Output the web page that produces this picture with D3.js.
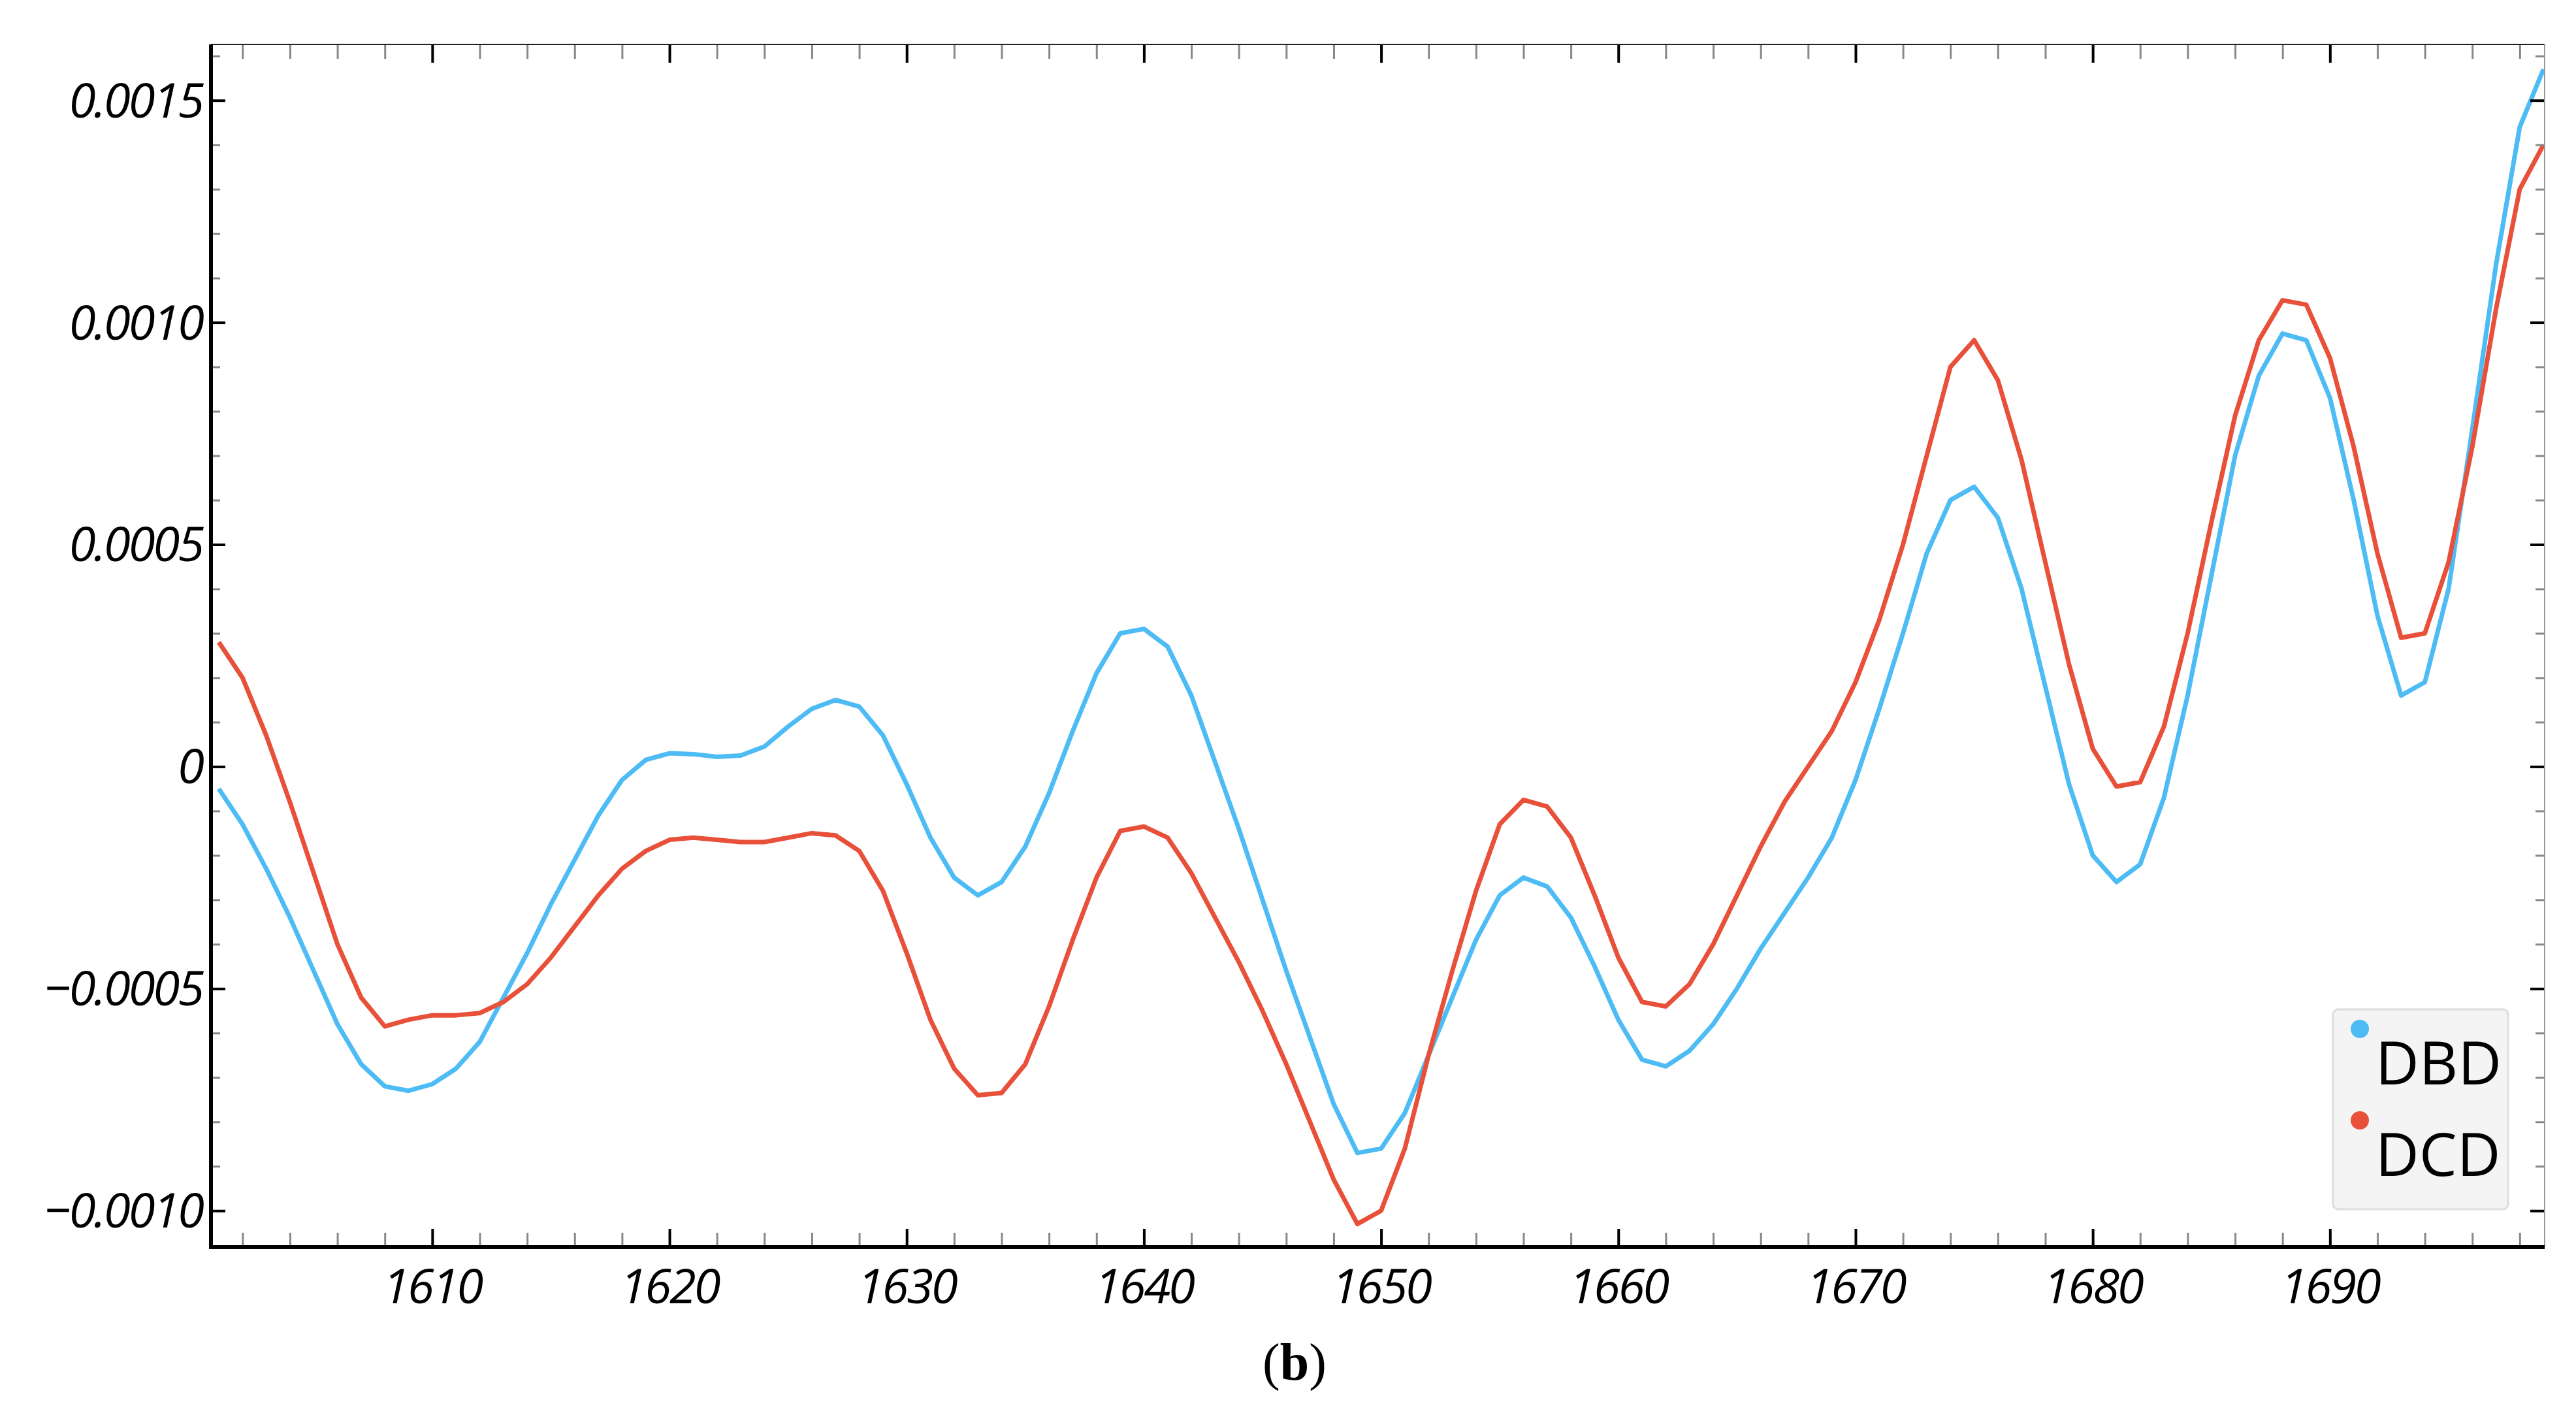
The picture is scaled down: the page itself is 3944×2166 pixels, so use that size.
<!DOCTYPE html>
<html><head><meta charset="utf-8">
<script src="https://cdn.jsdelivr.net/npm/d3@7"></script>
<style>body{margin:0;background:#fff}</style></head>
<body><svg id="c" width="3944" height="2166"></svg>
<script>
const xs = d3.range(1601, 1700);
const dbd = [-0.5,-1.3,-2.3,-3.4,-4.6,-5.8,-6.7,-7.2,-7.3,-7.15,-6.8,-6.2,-5.2,-4.2,-3.1,-2.1,-1.1,-0.3,0.15,0.3,
0.28,0.22,0.25,0.45,0.9,1.3,1.5,1.35,0.7,-0.4,-1.6,-2.5,-2.9,-2.6,-1.8,-0.6,0.8,2.1,3.0,3.1,
2.7,1.6,0.1,-1.4,-3.0,-4.6,-6.1,-7.6,-8.7,-8.6,-7.8,-6.5,-5.2,-3.9,-2.9,-2.5,-2.7,-3.4,-4.5,-5.7,
-6.6,-6.75,-6.4,-5.8,-5.0,-4.1,-3.3,-2.5,-1.6,-0.3,1.3,3.0,4.8,6.0,6.3,5.6,4.0,1.8,-0.4,-2.0,
-2.6,-2.2,-0.7,1.6,4.3,7.0,8.8,9.75,9.6,8.3,6.0,3.4,1.6,1.9,4.0,7.6,11.3,14.4,15.7];
const dcd = [2.8,2.0,0.7,-0.8,-2.4,-4.0,-5.2,-5.85,-5.7,-5.6,-5.6,-5.55,-5.3,-4.9,-4.3,-3.6,-2.9,-2.3,-1.9,-1.65,
-1.6,-1.65,-1.7,-1.7,-1.6,-1.5,-1.55,-1.9,-2.8,-4.2,-5.7,-6.8,-7.4,-7.35,-6.7,-5.4,-3.9,-2.5,-1.45,-1.35,
-1.6,-2.4,-3.4,-4.4,-5.5,-6.7,-8.0,-9.3,-10.3,-10.0,-8.6,-6.5,-4.6,-2.8,-1.3,-0.75,-0.9,-1.6,-2.9,-4.3,
-5.3,-5.4,-4.9,-4.0,-2.9,-1.8,-0.8,0.0,0.8,1.9,3.3,5.0,7.0,9.0,9.6,8.7,6.9,4.6,2.3,0.4,
-0.45,-0.35,0.9,3.0,5.5,7.9,9.6,10.5,10.4,9.2,7.2,4.8,2.9,3.0,4.6,7.2,10.3,13.0,14.0];
const seriesNames = ["DBD","DCD"];
const xTicks = [1610,1620,1630,1640,1650,1660,1670,1680,1690];
const yTicks = [-0.001,-0.0005,0,0.0005,0.001,0.0015];
const yTickLabels = ["\u22120.0010","\u22120.0005","0","0.0005","0.0010","0.0015"];

const L=323,R=3896,T=68,B=1909;
const colors=["#4dbcf5","#e8503a"];
const svg=d3.select("#c");
const x=d3.scaleLinear().domain([1600.67,1699.05]).range([L,R]);
const y=d3.scaleLinear().domain([-0.001082,0.001626]).range([B,T]);
svg.append("clipPath").attr("id","cp").append("rect").attr("x",L).attr("y",T).attr("width",R-L).attr("height",B-T);
const line=d3.line().x((d,i)=>x(xs[i])).y(d=>y(d*1e-4));
[dbd,dcd].forEach((s,k)=>{
  svg.append("path").datum(s).attr("d",line).attr("fill","none").attr("stroke",colors[k])
   .attr("stroke-width",7).attr("stroke-linejoin","round").attr("clip-path","url(#cp)");
});
const minorX=d3.range(1602,1700,2), minorY=d3.range(-10,17).map(v=>v*1e-4);
function ax(gen,scale,tr,minor,major,len,mlen){
  const a=svg.append("g").attr("transform",tr);
  a.call(gen(scale).tickValues(minor).tickSize(mlen).tickFormat(""));
  a.selectAll(".tick line").attr("stroke","#888").attr("stroke-width",3);
  a.select(".domain").remove();
  const b=svg.append("g").attr("transform",tr);
  b.call(gen(scale).tickValues(major).tickSize(len).tickFormat(""));
  b.selectAll(".tick line").attr("stroke","#000").attr("stroke-width",4);
  b.select(".domain").remove();
}
ax(d3.axisTop,x,`translate(0,${B})`,minorX,xTicks,28,22);
ax(d3.axisBottom,x,`translate(0,${T})`,minorX,xTicks,28,22);
ax(d3.axisRight,y,`translate(${L},0)`,minorY,yTicks,22,14);
ax(d3.axisLeft,y,`translate(${R},0)`,minorY,yTicks,22,14);
svg.append("path").attr("d",`M${L},${T}H${R}`).attr("stroke","#222").attr("stroke-width",2);
svg.append("path").attr("d",`M${R},${T}V${B}`).attr("stroke","#999").attr("stroke-width",2);
svg.append("path").attr("d",`M${L},${T}V${B}H${R}`).attr("stroke","#000").attr("stroke-width",6).attr("fill","none");
const tf="'Open Sans',sans-serif";
xTicks.forEach(v=>svg.append("text").attr("x",x(v)).attr("y",1995).attr("text-anchor","middle")
  .attr("font-family",tf).attr("font-style","italic").attr("font-size",74).attr("letter-spacing",-3).text(v));
yTicks.forEach((v,i)=>svg.append("text").attr("x",310).attr("y",y(v)+26).attr("text-anchor","end")
  .attr("font-family",tf).attr("font-style","italic").attr("font-size",74).attr("letter-spacing",-3).text(yTickLabels[i]));
svg.append("rect").attr("x",3572).attr("y",1545).attr("width",268).attr("height",306).attr("rx",8)
  .attr("fill","#f4f4f4").attr("stroke","#ddd").attr("stroke-width",3);
seriesNames.forEach((n,i)=>{
  svg.append("circle").attr("cx",3613).attr("cy",1575+i*140).attr("r",14).attr("fill",colors[i]);
  svg.append("text").attr("x",3637).attr("y",1660+i*140).attr("font-family",tf).attr("font-size",92).text(n);
});
svg.append("text").attr("x",1982).attr("y",2112).attr("text-anchor","middle").attr("font-family","'Liberation Serif',serif")
  .attr("font-size",80).html("(<tspan font-weight='bold'>b</tspan>)");
</script></body></html>
